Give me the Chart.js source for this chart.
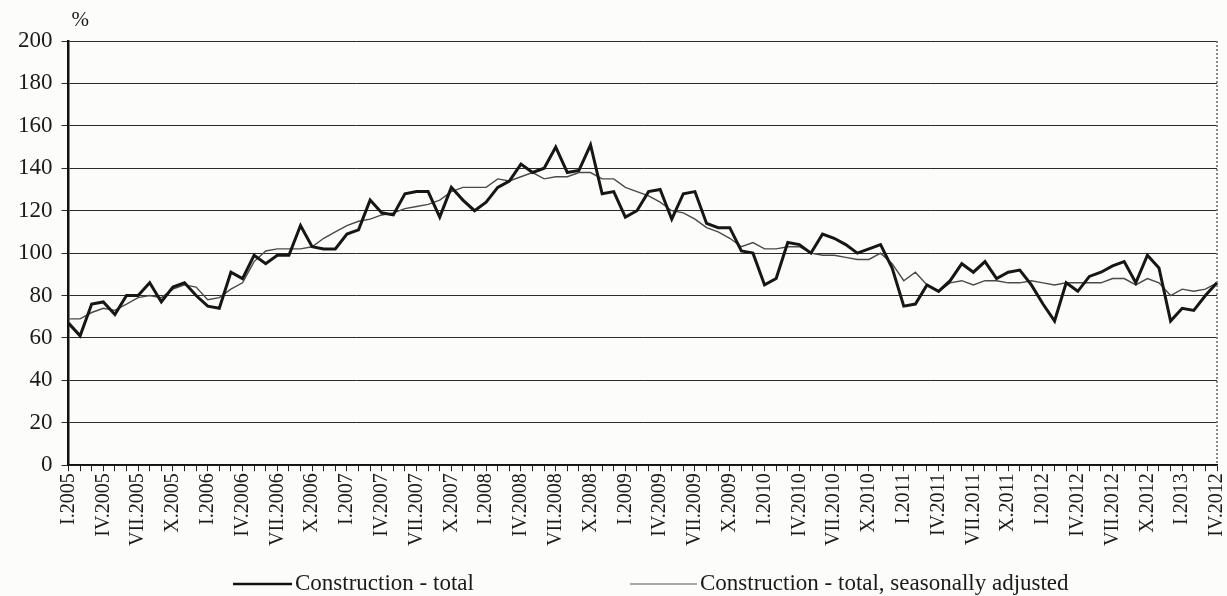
<!DOCTYPE html>
<html>
<head>
<meta charset="utf-8">
<script src="https://cdn.jsdelivr.net/npm/chart.js@4/dist/chart.umd.min.js"></script>
<style>
  html, body { margin: 0; padding: 0; background: #fcfcfa; }
  #wrap { width: 1227px; height: 596px; position: relative; }
</style>
</head>
<body>
<div id="wrap"><canvas id="chart"></canvas></div>
<script>
// ---- data (monthly I.2005 - IV.2013) ----
const romans = ["I","II","III","IV","V","VI","VII","VIII","IX","X","XI","XII"];
const months = [];
for (let y = 2005; y <= 2013; y++) {
  for (let m = 0; m < 12; m++) {
    if (months.length < 100) months.push(romans[m] + "." + y);
  }
}

// labels shown under every third month (the last one is printed like this in the source)
const tickLabels = [
  "I.2005","IV.2005","VII.2005","X.2005",
  "I.2006","IV.2006","VII.2006","X.2006",
  "I.2007","IV.2007","VII.2007","X.2007",
  "I.2008","IV.2008","VII.2008","X.2008",
  "I.2009","IV.2009","VII.2009","X.2009",
  "I.2010","IV.2010","VII.2010","X.2010",
  "I.2011","IV.2011","VII.2011","X.2011",
  "I.2012","IV.2012","VII.2012","X.2012",
  "I.2013","IV.2012"
];

const total = [
  67, 61, 76, 77, 71, 80, 80, 86, 77, 84, 86, 80,
  75, 74, 91, 88, 99, 95, 99, 99, 113, 103, 102, 102,
  109, 111, 125, 119, 118, 128, 129, 129, 117, 131, 125, 120,
  124, 131, 134, 142, 138, 140, 150, 138, 139, 151, 128, 129,
  117, 120, 129, 130, 116, 128, 129, 114, 112, 112, 101, 100,
  85, 88, 105, 104, 100, 109, 107, 104, 100, 102, 104, 93,
  75, 76, 85, 82, 87, 95, 91, 96, 88, 91, 92, 85,
  76, 68, 86, 82, 89, 91, 94, 96, 86, 99, 93, 68,
  74, 73, 80, 86
];

const seasAdj = [
  69, 69, 72, 74, 73, 76, 79, 80, 79, 83, 85, 84,
  78, 79, 83, 86, 96, 101, 102, 102, 102, 103, 107, 110,
  113, 115, 116, 118, 119, 121, 122, 123, 125, 129, 131, 131,
  131, 135, 134, 136, 138, 135, 136, 136, 138, 138, 135, 135,
  131, 129, 127, 124, 120, 119, 116, 112, 110, 107, 103, 105,
  102, 102, 103, 103, 100, 99, 99, 98, 97, 97, 100, 95,
  87, 91, 85, 82, 86, 87, 85, 87, 87, 86, 86, 87,
  86, 85, 86, 86, 86, 86, 88, 88, 85, 88, 86, 80,
  83, 82, 83, 86
];

const seriesNames = ["Construction - total", "Construction - total, seasonally adjusted"];

const SERIF = "'Liberation Serif', 'DejaVu Serif', serif";

// "%" above the y axis, dotted right frame and the legend row at the bottom
const extras = {
  id: "extras",
  afterDraw(chart) {
    const { ctx, chartArea } = chart;
    ctx.save();
    ctx.strokeStyle = "#666";
    ctx.lineWidth = 1.5;
    ctx.setLineDash([2, 2]);
    ctx.beginPath();
    ctx.moveTo(chartArea.right, chartArea.top);
    ctx.lineTo(chartArea.right, chartArea.bottom);
    ctx.stroke();
    ctx.setLineDash([]);

    ctx.fillStyle = "#1a1a1a";
    ctx.font = "21px " + SERIF;
    ctx.textBaseline = "middle";
    ctx.fillText("%", chartArea.left + 3, 20);

    const y = 584;
    ctx.font = "23px " + SERIF;
    // item 1
    ctx.strokeStyle = "#111";
    ctx.lineWidth = 2.5;
    ctx.beginPath(); ctx.moveTo(233, y); ctx.lineTo(292, y); ctx.stroke();
    ctx.fillText(seriesNames[0], 295, y);
    // item 2
    ctx.strokeStyle = "#555";
    ctx.lineWidth = 1.2;
    ctx.beginPath(); ctx.moveTo(630, y); ctx.lineTo(697, y); ctx.stroke();
    ctx.fillText(seriesNames[1], 700, y);
    ctx.restore();
  }
};

new Chart(document.getElementById("chart"), {
  type: "line",
  data: {
    labels: months,
    datasets: [
      {
        label: seriesNames[0],
        data: total,
        borderColor: "#161616",
        borderWidth: 3,
        pointRadius: 0,
        tension: 0
      },
      {
        label: seriesNames[1],
        data: seasAdj,
        borderColor: "#4a4a4a",
        borderWidth: 1.4,
        pointRadius: 0,
        tension: 0
      }
    ]
  },
  options: {
    responsive: true,
    maintainAspectRatio: false,
    animation: false,
    layout: { padding: { top: 41, left: 9, right: 10, bottom: 48 } },
    plugins: {
      legend: { display: false },
      tooltip: { enabled: false }
    },
    scales: {
      x: {
        offset: false,
        // last rotated label would otherwise reserve room on the right
        afterFit: (scale) => { scale.paddingRight = 0; },
        grid: { drawOnChartArea: false, color: "#222", tickLength: 6, lineWidth: 1 },
        border: { color: "#111", width: 1.5 },
        ticks: {
          autoSkip: false,
          maxRotation: 90,
          minRotation: 90,
          padding: 2,
          color: "#1a1a1a",
          font: { family: SERIF, size: 20 },
          callback: (v, i) => (i % 3 === 0 ? tickLabels[i / 3] : "")
        }
      },
      y: {
        min: 0,
        max: 200,
        ticks: {
          stepSize: 20,
          padding: 9,
          color: "#1a1a1a",
          font: { family: SERIF, size: 23 }
        },
        grid: { color: "#2a2a2a", lineWidth: 1, tickLength: 7 },
        border: { color: "#111", width: 2.5 }
      }
    }
  },
  plugins: [extras]
});
</script>
</body>
</html>
